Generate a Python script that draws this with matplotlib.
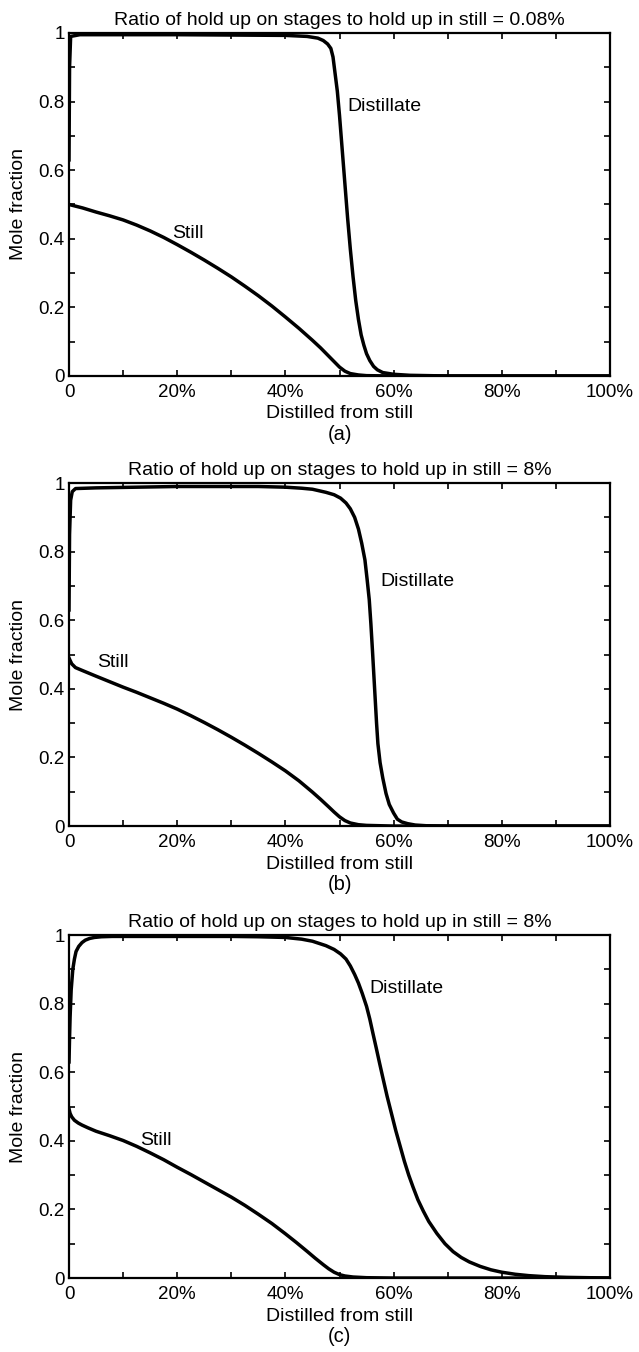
import numpy as np
import matplotlib
matplotlib.use("Agg")
import matplotlib.pyplot as plt

plt.rcParams['font.family'] = ['Liberation Sans', 'DejaVu Sans']

# panel titles and tags
titles = ["Ratio of hold up on stages to hold up in still = 0.08%",
          "Ratio of hold up on stages to hold up in still = 8%",
          "Ratio of hold up on stages to hold up in still = 8%"]
tags = ["(a)", "(b)", "(c)"]

x_ticks = [0, 0.1, 0.2, 0.3, 0.4, 0.5, 0.6, 0.7, 0.8, 0.9, 1.0]
x_tick_labels = ["0", "", "20%", "", "40%", "", "60%", "", "80%", "", "100%"]
y_ticks = [0, 0.1, 0.2, 0.3, 0.4, 0.5, 0.6, 0.7, 0.8, 0.9, 1.0]
y_tick_labels = ["0", "", "0.2", "", "0.4", "", "0.6", "", "0.8", "", "1"]

# (a) distillate / still, x = fraction distilled
dist_a_x = [0, 0.001, 0.003, 0.02, 0.2, 0.4, 0.44, 0.46, 0.47, 0.478, 0.484, 0.488,
            0.492, 0.496, 0.5, 0.505, 0.51, 0.515, 0.52, 0.525, 0.53, 0.535, 0.54,
            0.545, 0.55, 0.556, 0.563, 0.57, 0.58, 0.6, 0.63, 0.7, 1.0]
dist_a_y = [0.63, 0.9, 0.99, 0.995, 0.995, 0.993, 0.99, 0.985, 0.978, 0.968, 0.955, 0.93,
            0.88, 0.83, 0.76, 0.66, 0.56, 0.46, 0.37, 0.29, 0.22, 0.165, 0.12,
            0.09, 0.065, 0.045, 0.028, 0.018, 0.01, 0.005, 0.002, 0.0, 0.0]
still_a_x = [0, 0.025, 0.05, 0.075, 0.1, 0.125, 0.15, 0.175, 0.2, 0.225, 0.25, 0.275,
             0.3, 0.325, 0.35, 0.375, 0.4, 0.425, 0.45, 0.465, 0.48, 0.49, 0.5, 0.51,
             0.52, 0.535, 0.55, 0.6, 1.0]
still_a_y = [0.5, 0.49, 0.478, 0.467, 0.455, 0.44, 0.423, 0.404, 0.383, 0.361, 0.338, 0.314,
             0.289, 0.262, 0.234, 0.204, 0.172, 0.139, 0.104, 0.082, 0.058, 0.042, 0.026, 0.014,
             0.007, 0.003, 0.001, 0.0, 0.0]

# (b)
dist_b_x = [0, 0.001, 0.003, 0.006, 0.012, 0.05, 0.2, 0.35, 0.4, 0.43, 0.45, 0.475, 0.49,
            0.502, 0.512, 0.52, 0.528, 0.535, 0.541, 0.547, 0.551, 0.555, 0.558, 0.561,
            0.5635, 0.566, 0.5685, 0.571, 0.575, 0.58, 0.586, 0.592, 0.6, 0.607, 0.615,
            0.626, 0.64, 0.66, 0.7, 1.0]
dist_b_y = [0.63, 0.85, 0.95, 0.975, 0.984, 0.986, 0.99, 0.99, 0.988, 0.985, 0.982, 0.973, 0.966,
            0.956, 0.942, 0.925, 0.9, 0.866, 0.825, 0.776, 0.72, 0.66, 0.59, 0.51,
            0.44, 0.37, 0.3, 0.24, 0.185, 0.14, 0.095, 0.063, 0.038, 0.02, 0.012,
            0.007, 0.003, 0.001, 0.0, 0.0]
still_b_x = [0, 0.002, 0.005, 0.012, 0.024, 0.05, 0.075, 0.1, 0.125, 0.15, 0.175, 0.2,
             0.225, 0.25, 0.275, 0.3, 0.325, 0.35, 0.375, 0.4, 0.425, 0.45, 0.465, 0.48,
             0.49, 0.5, 0.51, 0.52, 0.535, 0.55, 0.6, 1.0]
still_b_y = [0.49, 0.483, 0.473, 0.462, 0.454, 0.437, 0.421, 0.405, 0.39, 0.374, 0.358, 0.341,
             0.322, 0.302, 0.281, 0.259, 0.236, 0.212, 0.187, 0.161, 0.132, 0.099, 0.078, 0.056,
             0.041, 0.027, 0.016, 0.009, 0.004, 0.002, 0.0, 0.0]

# (c)
dist_c_x = [0, 0.001, 0.002, 0.004, 0.007, 0.01, 0.013, 0.018, 0.024, 0.03, 0.038, 0.047,
            0.06, 0.08, 0.2, 0.3, 0.35, 0.4, 0.43, 0.45, 0.475, 0.49, 0.502, 0.512, 0.52,
            0.528, 0.535, 0.542, 0.55, 0.556, 0.562, 0.568, 0.574, 0.58, 0.588, 0.596,
            0.604, 0.612, 0.62, 0.628, 0.636, 0.645, 0.655, 0.665, 0.68, 0.695, 0.71,
            0.725, 0.74, 0.76, 0.78, 0.8, 0.825, 0.85, 0.88, 0.92, 0.96, 1.0]
dist_c_y = [0.63, 0.7, 0.76, 0.84, 0.9, 0.93, 0.952, 0.967, 0.978, 0.985, 0.99, 0.993,
            0.995, 0.996, 0.996, 0.996, 0.995, 0.993, 0.988, 0.982, 0.969, 0.958, 0.945, 0.93, 0.91,
            0.885, 0.86, 0.83, 0.792, 0.755, 0.712, 0.67, 0.627, 0.585, 0.53, 0.48,
            0.43, 0.385, 0.34, 0.3, 0.265, 0.228, 0.195, 0.165, 0.13, 0.1, 0.077,
            0.06, 0.047, 0.034, 0.024, 0.017, 0.011, 0.007, 0.004, 0.002, 0.001, 0.0]
still_c_x = [0, 0.002, 0.005, 0.01, 0.017, 0.024, 0.035, 0.05, 0.075, 0.1, 0.125, 0.15,
             0.175, 0.2, 0.225, 0.25, 0.275, 0.3, 0.325, 0.35, 0.375, 0.4, 0.42, 0.44,
             0.455, 0.47, 0.48, 0.49, 0.5, 0.51, 0.525, 0.55, 0.6, 1.0]
still_c_y = [0.493, 0.48, 0.47, 0.46, 0.452, 0.446, 0.438, 0.428, 0.415, 0.401, 0.384, 0.365,
             0.345, 0.323, 0.302, 0.28, 0.258, 0.236, 0.212, 0.186, 0.159, 0.129, 0.104, 0.078,
             0.058, 0.039, 0.027, 0.017, 0.01, 0.006, 0.003, 0.001, 0.0, 0.0]

dist_x = [dist_a_x, dist_b_x, dist_c_x]
dist_y = [dist_a_y, dist_b_y, dist_c_y]
still_x = [still_a_x, still_b_x, still_c_x]
still_y = [still_a_y, still_b_y, still_c_y]

# label anchor points (left edge, vertical centre)
dist_label_xy = [(0.515, 0.786), (0.575, 0.712), (0.556, 0.843)]
still_label_xy = [(0.19, 0.416), (0.052, 0.476), (0.132, 0.401)]

fig = plt.figure(figsize=(6.39, 13.52), dpi=100)
bottoms = [0.7219, 0.389, 0.0547]
fs = 14

for i in range(3):
    ax = fig.add_axes([0.108, bottoms[i], 0.8466, 0.2537])
    ax.plot(dist_x[i], dist_y[i], color="black", lw=2.5, solid_joinstyle="round")
    ax.plot(still_x[i], still_y[i], color="black", lw=2.5, solid_joinstyle="round")
    ax.set_xlim(0, 1)
    ax.set_ylim(0, 1)
    ax.set_xticks(x_ticks)
    ax.set_xticklabels(x_tick_labels)
    ax.set_yticks(y_ticks)
    ax.set_yticklabels(y_tick_labels)
    ax.tick_params(direction="in", top=True, right=True, length=4, width=1.2,
                   labelsize=13.5, pad=3)
    ax.tick_params(axis="x", pad=6)
    for sp in ax.spines.values():
        sp.set_linewidth(1.6)
    ax.set_title(titles[i], fontsize=fs, pad=6)
    ax.set_xlabel("Distilled from still", fontsize=fs, labelpad=3)
    ax.set_ylabel("Mole fraction", fontsize=fs, labelpad=8)
    ax.text(dist_label_xy[i][0], dist_label_xy[i][1], "Distillate", fontsize=fs, va="center")
    ax.text(still_label_xy[i][0], still_label_xy[i][1], "Still", fontsize=fs, va="center")
    pos = ax.get_position()
    fig.text(pos.x0 + pos.width / 2, pos.y0 - 0.043, tags[i], fontsize=fs + 0.5,
             ha="center", va="center")

fig.savefig("out.png", dpi=100)
